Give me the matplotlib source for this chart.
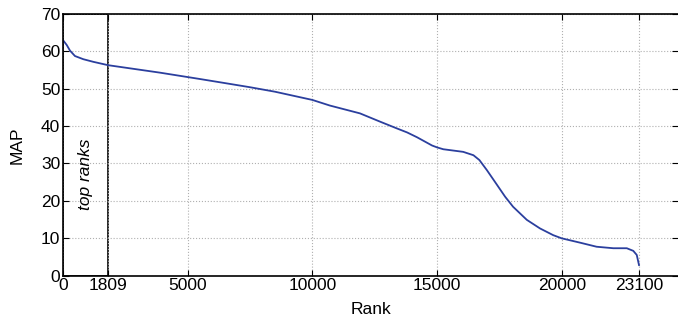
import numpy as np
import matplotlib.pyplot as plt
from matplotlib.patches import Rectangle

plt.rcParams['font.family'] = ['Liberation Sans', 'DejaVu Sans']

# MAP as a function of rank
rank = np.array([0, 150, 280, 480, 815, 1215, 1809, 3890, 5490, 6500, 7500,
                 8500, 10000, 10700, 11910, 12710, 13380, 13800, 14200, 14500,
                 14800, 15000, 15250, 16050, 16460, 16700, 17000, 17330, 17730,
                 18050, 18600, 19130, 19660, 20000, 20730, 21400, 22070, 22610,
                 22870, 23010, 23100])
map_vals = np.array([63.0, 61.7, 60.2, 58.75, 57.9, 57.2, 56.3, 54.3, 52.6, 51.5,
                     50.4, 49.2, 47.0, 45.5, 43.4, 41.2, 39.4, 38.3, 37.0, 35.9,
                     34.8, 34.3, 33.8, 33.1, 32.2, 30.9, 28.2, 25.0, 21.1,
                     18.4, 14.9, 12.6, 10.8, 9.95, 8.8, 7.7, 7.3, 7.3,
                     6.6, 5.5, 2.8])

top_cut = 1809
xticks = [0, 1809, 5000, 10000, 15000, 20000, 23100]
yticks = [0, 10, 20, 30, 40, 50, 60, 70]
fs = 12.5

fig = plt.figure(figsize=(6.78, 3.22), dpi=100)
ax = fig.add_axes([63 / 678, 0.1444, 1 - 63 / 678, 0.8121])

ax.plot(rank, map_vals, color='#2b3f9e', lw=1.3)
ax.add_patch(Rectangle((0, 0), top_cut, 70, fill=False, edgecolor='black', lw=1.2))
ax.text(top_cut / 2, 27, 'top ranks', rotation=90, style='italic',
        ha='center', va='center', fontsize=fs)

ax.set_xlim(0, 24664)
ax.set_ylim(0, 70)
ax.set_xticks(xticks)
ax.set_yticks(yticks)
ax.tick_params(direction='in', top=True, right=True, labelsize=fs, length=4, pad=2)
ax.grid(True, linestyle=':', color='#b0b0b0', lw=0.8)
for side in ['left', 'bottom', 'top']:
    ax.spines[side].set_linewidth(1.2)
ax.spines['right'].set_visible(False)

ax.set_xlabel('Rank', fontsize=fs, labelpad=6)
ax.set_ylabel('MAP', fontsize=fs, labelpad=12)

fig.savefig('out.png', dpi=100)
